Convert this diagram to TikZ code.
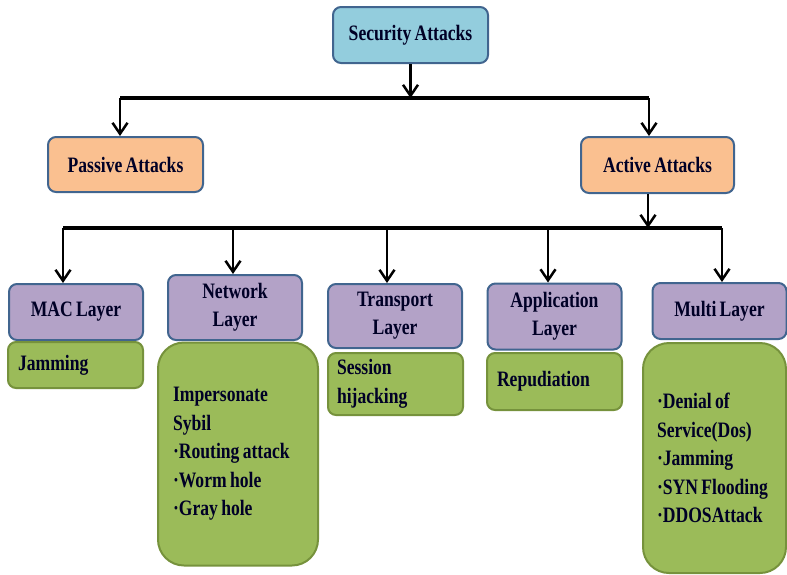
\documentclass[tikz,border=0pt]{standalone}
\usepackage{fontspec}
\setmainfont{Liberation Serif}[FakeStretch=0.8, WordSpace=0.75]
\usetikzlibrary{arrows.meta}

\definecolor{root fill}{HTML}{93CDDD}
\definecolor{kind fill}{HTML}{FAC090}
\definecolor{layer fill}{HTML}{B3A2C7}
\definecolor{attack fill}{HTML}{9BBB59}
\definecolor{box border}{HTML}{41658F}
\definecolor{attack border}{HTML}{76923C}
\colorlet{label color}{black!85!blue}

\tikzset{
    x={1pt},
    y={-1pt},
    header/.style={
        draw=box border, fill={#1},
        line width={2pt},
        rounded corners={8pt},
        align=center,
        inner sep=0pt,
        text=label color,
        font={\fontsize{22}{28}\selectfont\bfseries},
    },
    layer box/.style={
        header=layer fill,
        minimum width={134},
    },
    attack box/.style={
        draw=attack border, fill=attack fill,
        line width={2pt},
        rounded corners={#1},
        align=flush left,
        inner xsep=10pt, inner ysep=0pt,
        text=label color,
        font={\fontsize{22}{28.5}\selectfont\bfseries},
    },
    attack box/.default={8pt},
    link/.style={
        draw=black,
        line width={2.5pt},
        -{Straight Barb[length=11pt,width=15pt,line width=2.5pt]},
    },
    bus/.style={
        draw=black,
        line width={3.2pt},
    },
}

\begin{document}
\begin{tikzpicture}
\useasboundingbox (0,0) rectangle (787,574);
% boxes
\node[header=root fill, minimum width={155}, minimum height={56}] (sec) at (410.5,35) {Security Attacks};
\node[header=kind fill, minimum width={155}, minimum height={55}] (passive) at (125.5,164.5) {Passive Attacks};
\node[header=kind fill, minimum width={153}, minimum height={56}] (active) at (657.5,165) {Active Attacks};
\node[layer box, minimum height={56}] (mac) at (76,312) {MAC Layer};
\node[layer box, minimum height={65}] (net) at (235,307.5) {Network\\Layer};
\node[layer box, minimum height={64}] (trans) at (395,316) {Transport\\Layer};
\node[layer box, minimum height={66}] (app) at (554.5,316.5) {Application\\Layer};
\node[layer box, minimum height={56}] (multi) at (719.5,311) {Multi Layer};
% attacks
\node[attack box, text width={115}, minimum height={46}] (jam) at (75.5,365) {Jamming};
\node[attack box={26pt}, inner xsep=15pt, text width={130}, minimum height={223}] (netlist) at (238,454)
    {Impersonate\\Sybil\\·Routing attack\\·Worm hole\\·Gray hole};
\node[attack box, inner xsep=9pt, text width={117}, minimum height={62}] (sess) at (395.5,384) {Session\\hijacking};
\node[attack box, text width={115}, minimum height={57}] (rep) at (554.5,381.5) {Repudiation};
\node[attack box={26pt}, inner xsep=14pt, text width={115}, minimum height={230}] (multilist) at (714.5,458)
    {·Denial of\\Service(Dos)\\·Jamming\\·SYN Flooding\\·DDOSAttack};
% buses
\coordinate (top mid) at (410.5,98);
\coordinate (top west) at (120,98);
\coordinate (top east) at (649,98);
\coordinate (low mid) at (648,228);
\coordinate (tap mac) at (63,228);
\coordinate (tap net) at (233,228);
\coordinate (tap trans) at (387,228);
\coordinate (tap app) at (548,228);
\coordinate (tap multi) at (722,228);
\draw[bus] (top west) -- (top east);
\draw[bus] (tap mac) -- (tap multi);
% connectors
\draw[link] (sec.south) -- (top mid);
\draw[link] (top west) -- (passive.north -| top west);
\draw[link] (top east) -- (active.north -| top east);
\draw[link] (active.south -| low mid) -- (low mid);
\foreach \n in {mac,net,trans,app,multi}
    \draw[link] (tap \n) -- (\n.north -| tap \n);
\end{tikzpicture}
\end{document}
